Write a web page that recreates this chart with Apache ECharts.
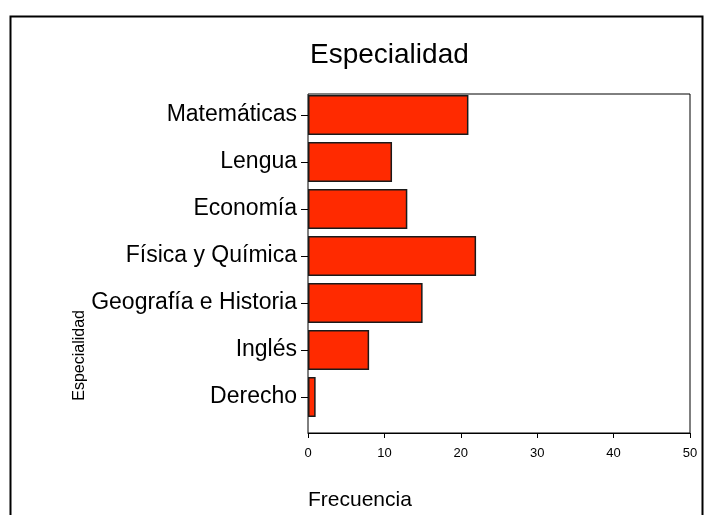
<!DOCTYPE html>
<html><head><meta charset="utf-8">
<script src="https://cdn.jsdelivr.net/npm/echarts@6/dist/echarts.min.js"></script>
<style>html,body{margin:0;padding:0;background:#fff}#c{width:708px;height:515px}</style>
</head><body><div id="c"></div>
<script>
const categories = ['Matemáticas','Lengua','Economía','Física y Química','Geografía e Historia','Inglés','Derecho'];
const frecuencia = [21, 11, 13, 22, 15, 8, 1];
const xTicks = [0, 10, 20, 30, 40, 50];
const FONT = '"Liberation Sans", Arial, sans-serif';
const chart = echarts.init(document.getElementById('c'), null, {renderer:'canvas'});
chart.setOption({
  animation: false,
  backgroundColor: '#fff',
  textStyle: {fontFamily: FONT},
  title: {text: 'Especialidad', left: 305, top: 36,
    textStyle: {fontFamily: FONT, fontSize: 28, fontWeight: 'normal', color: '#000'}},
  graphic: [
    {type: 'rect', left: 8, top: 14, shape: {width: 692, height: 520}, style: {fill: 'none', stroke: '#000', lineWidth: 2}, silent: true},
    {type: 'text', left: 72, top: 310, rotation: Math.PI/2, style: {text: 'Especialidad', font: '16px ' + FONT, fill: '#000'}},
    {type: 'text', left: 308, top: 490, style: {text: 'Frecuencia', font: '21px ' + FONT, fill: '#000'}}
  ],
  grid: [
    {left: 308, top: 94, width: 382, height: 339, show: true, borderColor: '#000', borderWidth: 1, backgroundColor: 'transparent'},
    {left: 308, top: 91.5, width: 382, height: 329}
  ],
  xAxis: [
    {gridIndex: 0, type: 'value', min: 0, max: 50, interval: 10,
      axisLine: {show: true, lineStyle: {color: '#000', width: 1}},
      axisTick: {show: true, length: 5, lineStyle: {color: '#000'}},
      axisLabel: {color: '#000', fontSize: 13, margin: 14, formatter: v => xTicks.includes(v) ? String(v) : ''},
      splitLine: {show: false}},
    {gridIndex: 1, type: 'value', min: 0, max: 50, show: false}
  ],
  yAxis: [
    {gridIndex: 0, type: 'value', show: false},
    {gridIndex: 1, type: 'category', data: categories, inverse: true,
      axisLine: {show: false},
      axisTick: {show: true, alignWithLabel: true, length: 7, lineStyle: {color: '#000'}},
      axisLabel: {color: '#000', fontSize: 23, margin: 11, fontFamily: FONT},
      splitLine: {show: false}}
  ],
  series: [{
    type: 'bar', xAxisIndex: 1, yAxisIndex: 1, data: frecuencia,
    barCategoryGap: '15%',
    itemStyle: {color: '#FF2A00', borderColor: '#1a1a1a', borderWidth: 1.5}
  }]
});
</script></body></html>
